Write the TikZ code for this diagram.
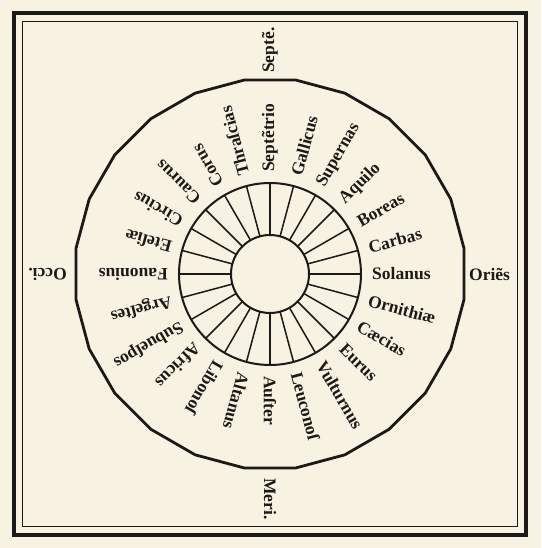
\documentclass[tikz,border=0pt]{standalone}
\usepackage{fontspec}
\setmainfont{Liberation Serif}
\usepackage{tikz}
\definecolor{paper}{RGB}{248,242,226}
\definecolor{ink}{RGB}{28,26,24}

\begin{document}
\begin{tikzpicture}[x=1pt, y=1pt, every node/.style={font=\fontsize{17.5}{17.5}\selectfont\bfseries, text=ink, inner sep=0pt}]
  \fill[paper] (-270,-274) rectangle (271,274);
  \useasboundingbox (-270,-274) rectangle (271,274);
  \draw[ink, line width=4.5pt] (-256,-261) rectangle (256,261);
  \draw[ink, line width=1.3pt] (-247.5,-252.5) rectangle (247.5,252.5);
  \draw[ink, line width=2.8pt, line join=round] (7.5:195.7)
    \foreach \k in {1,...,23} { -- (7.5+15*\k:195.7) } -- cycle;
  \draw[ink, line width=2pt] (0,0) circle (91);
  \draw[ink, line width=2pt] (0,0) circle (39);
  \foreach \k in {0,...,23}
    \draw[ink, line width=1.5pt] (15*\k:39) -- (15*\k:91);
  \foreach \a/\w/\n in {90/Septẽtrio/septentrio, 75/Gallicus/gallicus, 60/Supernas/supernas,
      45/Aquilo/aquilo, 30/Boreas/boreas, 15/Carbas/carbas, 0/Solanus/solanus,
      -15/Ornithiæ/ornithiae, -30/Cæcias/caecias, -45/Eurus/eurus, -60/Vulturnus/vulturnus,
      -75/Leuconoſ/leuconotus, -90/Auſter/auster, -105/Altanus/altanus, -120/Libonoſ/libonotus,
      -135/Africus/africus, -150/Subueſpos/subvesperus, -165/Argeſtes/argestes,
      180/Fauonius/favonius, 165/Eteſiæ/etesiae, 150/Circius/circius, 135/Caurus/caurus,
      120/Corus/corus, 105/Thraſcias/thrascias}
    \node[rotate=\a, anchor=west] (\n) at (\a:102) {\w};
  \node[rotate=90, anchor=west] (septe) at (90:201) {Septẽ.};
  \node[anchor=west] (oriens) at (0:199) {Oriẽs};
  \node[rotate=-90, anchor=west] (meri) at (-90:204) {Meri.};
  \node[rotate=180, anchor=west] (occi) at (180:203) {Occi.};
\end{tikzpicture}
\end{document}
